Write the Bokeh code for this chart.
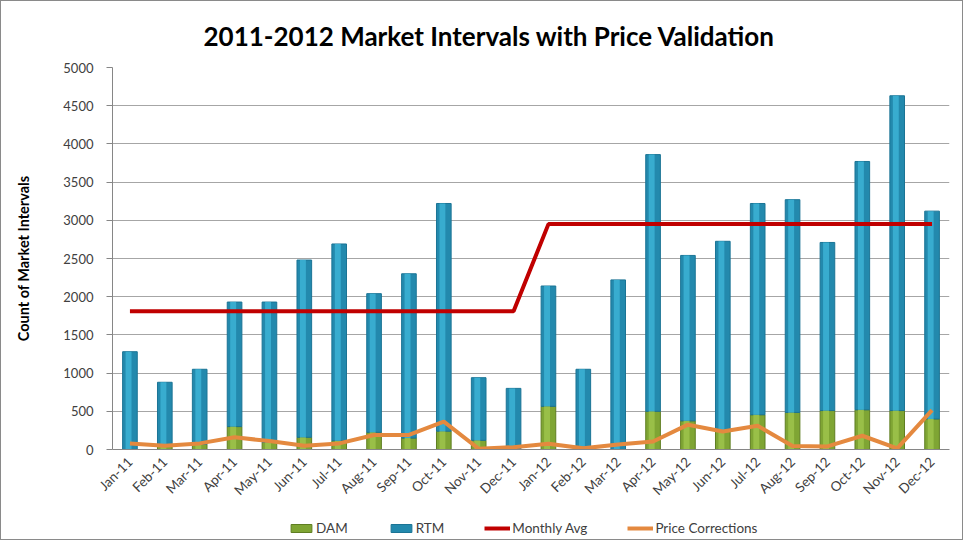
from math import pi
from bokeh.plotting import figure
from bokeh.layouts import column
from bokeh.models import (ColumnDataSource, FactorRange, Range1d, Legend, LegendItem,
                          SingleIntervalTicker)
from bokeh.transform import dodge
from bokeh.embed import file_html
from bokeh.resources import INLINE

months = ["Jan-11", "Feb-11", "Mar-11", "Apr-11", "May-11", "Jun-11", "Jul-11", "Aug-11",
          "Sep-11", "Oct-11", "Nov-11", "Dec-11", "Jan-12", "Feb-12", "Mar-12", "Apr-12",
          "May-12", "Jun-12", "Jul-12", "Aug-12", "Sep-12", "Oct-12", "Nov-12", "Dec-12"]
dam = [0, 40, 70, 300, 95, 160, 115, 225, 150, 240, 120, 0,
       565, 0, 0, 500, 375, 245, 455, 485, 510, 520, 510, 400]
rtm = [1280, 840, 980, 1630, 1835, 2320, 2575, 1815, 2150, 2980, 820, 800,
       1575, 1050, 2220, 3360, 2165, 2480, 2765, 2785, 2200, 3250, 4120, 2720]
monthly_avg = [1810] * 12 + [2950] * 12
price_corrections = [80, 50, 80, 160, 110, 50, 80, 190, 190, 365, 10, 30,
                     75, 15, 65, 105, 325, 235, 310, 45, 40, 180, 15, 515]
y_ticks_interval = 500

src = ColumnDataSource(dict(month=months, dam=dam, rtm=rtm, avg=monthly_avg, pc=price_corrections))

FONT = "Lato"
DAM_FILL, DAM_LINE = "#7fa534", "#5f7e22"
RTM_FILL, RTM_LINE = "#2389ad", "#1b7495"
AVG_COLOR = "#c00000"
PC_COLOR = "#e4893f"

p = figure(width=961, height=510, output_backend="svg", toolbar_location=None,
           x_range=FactorRange(factors=months), y_range=Range1d(0, 5000),
           min_border_left=111, min_border_right=13, min_border_top=64, min_border_bottom=62)

p.title.text = "2011-2012 Market Intervals with Price Validation"
p.title.text_font = FONT
p.title.text_font_size = "26px"
p.title.text_font_style = "bold"
p.title.text_color = "#000000"
p.title.align = "left"
p.title.offset = 91
p.title.standoff = 32

p.outline_line_color = None
p.background_fill_color = "white"
p.border_fill_color = "white"

# bars: base + highlight for a cylinder look
base = p.vbar_stack(["dam", "rtm"], x="month", width=0.42, source=src,
                    fill_color=[DAM_FILL, RTM_FILL], line_color=[DAM_LINE, RTM_LINE],
                    line_width=1)
p.vbar_stack(["dam", "rtm"], x=dodge("month", -0.04, range=p.x_range), width=0.17, source=src,
             fill_color=["#9cc24a", "#3bb0d3"], line_color=None, fill_alpha=0.9)

p.line(x="month", y="avg", source=src, line_color=AVG_COLOR, line_width=4)
p.line(x="month", y="pc", source=src, line_color=PC_COLOR, line_width=4)

# axes
p.yaxis.ticker = SingleIntervalTicker(interval=y_ticks_interval)
p.yaxis.axis_label = "Count of Market Intervals"
p.yaxis.axis_label_text_font = FONT
p.yaxis.axis_label_text_font_style = "bold"
p.yaxis.axis_label_text_font_size = "14.5px"
p.yaxis.axis_label_text_color = "#000000"
p.yaxis.axis_label_standoff = 28
p.yaxis.major_label_text_font = FONT
p.yaxis.major_label_text_font_size = "13px"
p.yaxis.major_label_text_color = "#404040"
p.yaxis.major_label_standoff = 13
p.yaxis.major_tick_out = 6
p.yaxis.major_tick_in = 0
p.yaxis.minor_tick_line_color = None
p.yaxis.axis_line_color = "#868686"
p.yaxis.major_tick_line_color = "#868686"

p.xaxis.major_label_orientation = pi / 4
p.xaxis.major_label_text_font = FONT
p.xaxis.major_label_text_font_size = "13.5px"
p.xaxis.major_label_text_color = "#404040"
p.xaxis.major_tick_line_color = None
p.xaxis.axis_line_color = "#868686"
p.xaxis.major_label_standoff = 4

p.xgrid.grid_line_color = None
p.ygrid.grid_line_color = "#a6a6a6"
p.ygrid.grid_line_width = 1

# legend strip (separate small figure so the legend is not clipped)
lg = figure(width=961, height=28, output_backend="svg", toolbar_location=None,
            x_range=(0, 1), y_range=(0, 1), x_axis_location=None, y_axis_location=None,
            min_border=0)
lg.outline_line_color = None
lg.grid.visible = False
offscreen = ColumnDataSource(dict(x=[-10], y=[-10]))
r_dam = lg.vbar(x="x", top="y", width=0.1, source=offscreen, fill_color=DAM_FILL, line_color=DAM_LINE)
r_rtm = lg.vbar(x="x", top="y", width=0.1, source=offscreen, fill_color=RTM_FILL, line_color=RTM_LINE)
r_avg = lg.line(x="x", y="y", source=offscreen, line_color=AVG_COLOR, line_width=4)
r_pc = lg.line(x="x", y="y", source=offscreen, line_color=PC_COLOR, line_width=4)

legend = Legend(items=[
    LegendItem(label="DAM", renderers=[r_dam]),
    LegendItem(label="RTM", renderers=[r_rtm]),
    LegendItem(label="Monthly Avg", renderers=[r_avg]),
    LegendItem(label="Price Corrections", renderers=[r_pc]),
], orientation="horizontal", location=(176, 3))
legend.border_line_color = None
legend.background_fill_alpha = 0
legend.label_text_font = FONT
legend.label_text_font_size = "13.5px"
legend.label_text_color = "#404040"
legend.glyph_width = 26
legend.glyph_height = 10
legend.label_standoff = 2
legend.spacing = 40
legend.padding = 0
legend.margin = 0
lg.add_layout(legend, "center")

layout = column(p, lg, spacing=0)
layout.styles = {"border": "1px solid #8a8a8a"}

open("out.html", "w").write(file_html(layout, INLINE))
